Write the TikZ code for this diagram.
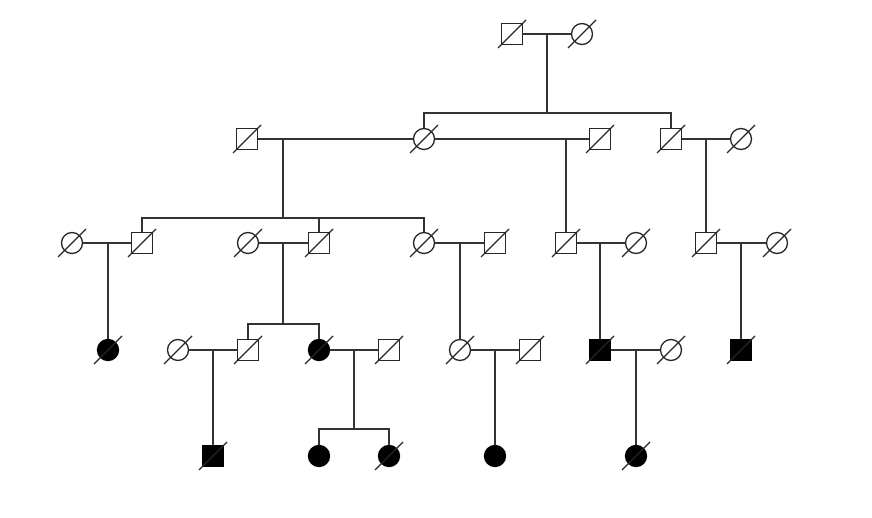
\documentclass[tikz,border=0pt]{standalone}
\begin{document}
\begin{tikzpicture}[x=1pt,y=-1pt,
  ln/.style={draw=black!80,line width=1.2pt},
  male/.style={rectangle,draw=black!85,line width=1.3pt,fill=white,minimum size=21pt,inner sep=0pt},
  female/.style={circle,draw=black!85,line width=1.3pt,fill=white,minimum size=21pt,inner sep=0pt},
  affm/.style={male,fill=black,draw=black},
  afff/.style={female,fill=black,draw=black},
  slash/.style={draw=black!85,line width=1.1pt}]
\useasboundingbox (0,0) rectangle (872,518);
% generation 1
\node[male] (A1) at (512,34) {};
\node[female] (A2) at (582,34) {};
% generation 2
\node[male] (B1) at (247,139) {};
\node[female] (B2) at (424,139) {};
\node[male] (B3) at (600,139) {};
\node[male] (B4) at (671,139) {};
\node[female] (B5) at (741,139) {};
% generation 3
\node[female] (C1) at (72,243) {};
\node[male] (C2) at (142,243) {};
\node[female] (C3) at (248,243) {};
\node[male] (C4) at (319,243) {};
\node[female] (C5) at (424,243) {};
\node[male] (C6) at (495,243) {};
\node[male] (C7) at (566,243) {};
\node[female] (C8) at (636,243) {};
\node[male] (C9) at (706,243) {};
\node[female] (C10) at (777,243) {};
% generation 4
\node[afff] (D1) at (108,350) {};
\node[female] (D2) at (178,350) {};
\node[male] (D3) at (248,350) {};
\node[afff] (D4) at (319,350) {};
\node[male] (D5) at (389,350) {};
\node[female] (D6) at (460,350) {};
\node[male] (D7) at (530,350) {};
\node[affm] (D8) at (600,350) {};
\node[female] (D9) at (671,350) {};
\node[affm] (D10) at (741,350) {};
% generation 5
\node[affm] (E1) at (213,456) {};
\node[afff] (E2) at (319,456) {};
\node[afff] (E3) at (389,456) {};
\node[afff] (E4) at (495,456) {};
\node[afff] (E5) at (636,456) {};
% junction coordinates
\coordinate (m1) at (547,34);
\coordinate (s1) at (547,113);
\coordinate (m2) at (283,139);
\coordinate (s2) at (283,218);
\coordinate (m3) at (566,139);
\coordinate (m4) at (706,139);
\coordinate (m5) at (108,243);
\coordinate (m6) at (283,243);
\coordinate (s6) at (283,324);
\coordinate (m7) at (460,243);
\coordinate (m8) at (600,243);
\coordinate (m9) at (741,243);
\coordinate (m10) at (213,350);
\coordinate (m11) at (354,350);
\coordinate (s11) at (354,429);
\coordinate (m12) at (495,350);
\coordinate (m13) at (636,350);
% marriage lines
\draw[ln] (A1) -- (A2);
\draw[ln] (B1) -- (B2);
\draw[ln] (B2) -- (B3);
\draw[ln] (B4) -- (B5);
\draw[ln] (C1) -- (C2);
\draw[ln] (C3) -- (C4);
\draw[ln] (C5) -- (C6);
\draw[ln] (C7) -- (C8);
\draw[ln] (C9) -- (C10);
\draw[ln] (D2) -- (D3);
\draw[ln] (D4) -- (D5);
\draw[ln] (D6) -- (D7);
\draw[ln] (D8) -- (D9);
% descent lines
\draw[ln] (m1) -- (s1);
\draw[ln] (B2) |- (s1) -| (B4);
\draw[ln] (m2) -- (s2);
\draw[ln] (C2) |- (s2) -| (C5);
\draw[ln] (s2) -| (C4);
\draw[ln] (m3) -- (C7);
\draw[ln] (m4) -- (C9);
\draw[ln] (m5) -- (D1);
\draw[ln] (m6) -- (s6);
\draw[ln] (D3) |- (s6) -| (D4);
\draw[ln] (m7) -- (D6);
\draw[ln] (m8) -- (D8);
\draw[ln] (m9) -- (D10);
\draw[ln] (m10) -- (E1);
\draw[ln] (m11) -- (s11);
\draw[ln] (E2) |- (s11) -| (E3);
\draw[ln] (m12) -- (E4);
\draw[ln] (m13) -- (E5);
% deceased slashes
\foreach \n in {A1,A2,B1,B2,B3,B4,B5,C1,C2,C3,C4,C5,C6,C7,C8,C9,C10,D1,D2,D3,D4,D5,D6,D7,D8,D9,D10,E1,E3,E5}
  \draw[slash] (\n.center) ++(-14,14) -- ++(28,-28);
\end{tikzpicture}
\end{document}
